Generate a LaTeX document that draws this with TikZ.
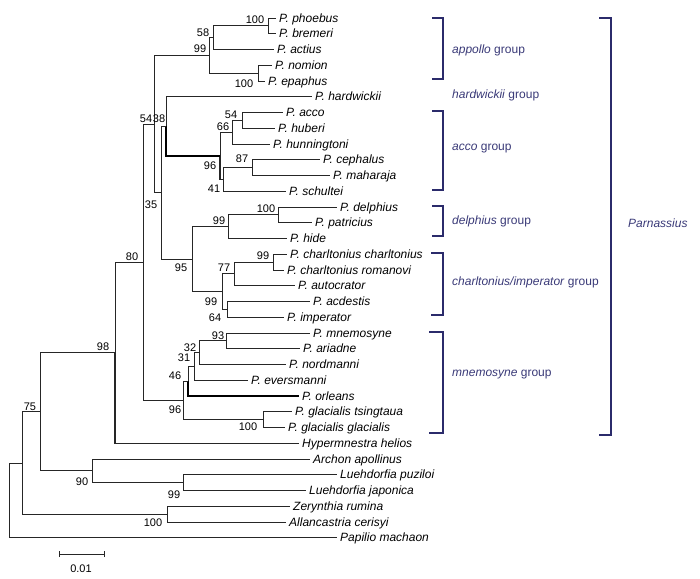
\documentclass[tikz,border=0pt]{standalone}
\usepackage{fontspec}
\setmainfont{Liberation Sans}
\definecolor{grp}{HTML}{3A3A78}
\definecolor{brk}{HTML}{2B2B6B}
\begin{document}
\begin{tikzpicture}[x=1pt,y=-1pt,
  br/.style={line width=0.9pt, draw=black!85},
  thk/.style={line width=1.7pt, draw=black},
  tip/.style={anchor=west, inner xsep=3pt, inner ysep=0pt, text height=8.4pt, text depth=0pt, font=\fontsize{12}{13}\selectfont\itshape},
  bs/.style={inner sep=0pt, font=\fontsize{11}{12}\selectfont},
  bracket/.style={draw=brk, line width=1.8pt},
  glab/.style={anchor=west, inner sep=0pt, text=grp, font=\fontsize{12}{13}\selectfont}]
\fill[white] (0,0) rectangle (700,578);
\useasboundingbox (0,0) rectangle (700,578);

% tips
\node[tip] (t0)  at (276,18)     {P. phoebus};
\node[tip] (t1)  at (276,33.75)  {P. bremeri};
\node[tip] (t2)  at (274,49.5)   {P. actius};
\node[tip] (t3)  at (272,65.25)  {P. nomion};
\node[tip] (t4)  at (265,81)     {P. epaphus};
\node[tip] (t5)  at (312,96.75)  {P. hardwickii};
\node[tip] (t6)  at (283,112.5)  {P. acco};
\node[tip] (t7)  at (275,128.25) {P. huberi};
\node[tip] (t8)  at (270,144)    {P. hunningtoni};
\node[tip] (t9)  at (320,159.75) {P. cephalus};
\node[tip] (t10) at (330,175.5)  {P. maharaja};
\node[tip] (t11) at (286,191.25) {P. schultei};
\node[tip] (t12) at (337,207)    {P. delphius};
\node[tip] (t13) at (312,222.75) {P. patricius};
\node[tip] (t14) at (287,238.5)  {P. hide};
\node[tip] (t15) at (287,254.25) {P. charltonius charltonius};
\node[tip] (t16) at (284,270)    {P. charltonius romanovi};
\node[tip] (t17) at (295,285.75) {P. autocrator};
\node[tip] (t18) at (310,301.5)  {P. acdestis};
\node[tip] (t19) at (284,317.25) {P. imperator};
\node[tip] (t20) at (310,333)    {P. mnemosyne};
\node[tip] (t21) at (300,348.75) {P. ariadne};
\node[tip] (t22) at (286,364.5)  {P. nordmanni};
\node[tip] (t23) at (248,380.25) {P. eversmanni};
\node[tip] (t24) at (299,396)    {P. orleans};
\node[tip] (t25) at (292,411.75) {P. glacialis tsingtaua};
\node[tip] (t26) at (285,427.5)  {P. glacialis glacialis};
\node[tip] (t27) at (299,443.25) {Hypermnestra helios};
\node[tip] (t28) at (310,459)    {Archon apollinus};
\node[tip] (t29) at (337,474.75) {Luehdorfia puziloi};
\node[tip] (t30) at (306,490.5)  {Luehdorfia japonica};
\node[tip] (t31) at (290,506.25) {Zerynthia rumina};
\node[tip] (t32) at (286,522)    {Allancastria cerisyi};
\node[tip] (t33) at (337,537.75) {Papilio machaon};

% internal nodes
\coordinate (A)  at (268,25.875);
\coordinate (B)  at (213,37.69);
\coordinate (C)  at (258,73.125);
\coordinate (D)  at (209,55.41);
\coordinate (E)  at (242,120.375);
\coordinate (F)  at (232,132.19);
\coordinate (G)  at (252,167.625);
\coordinate (H)  at (223,179.44);
\coordinate (I)  at (220,155.8);
\coordinate (J)  at (166,126.3);
\coordinate (K)  at (278,214.9);
\coordinate (L)  at (228,226.7);
\coordinate (M)  at (273,262.1);
\coordinate (N)  at (234,273.9);
\coordinate (O)  at (227,309.4);
\coordinate (P)  at (222,291.6);
\coordinate (Q)  at (192,259.2);
\coordinate (R)  at (161,192.7);
\coordinate (S)  at (154,124.1);
\coordinate (T)  at (226,340.9);
\coordinate (U)  at (199,352.7);
\coordinate (V)  at (194,366.5);
\coordinate (W)  at (188,381.2);
\coordinate (X)  at (263,419.6);
\coordinate (Y)  at (183,400.4);
\coordinate (Z)  at (143,262.3);
\coordinate (AA) at (115,352.8);
\coordinate (BB) at (183,482.6);
\coordinate (CC) at (92,470.8);
\coordinate (DD) at (40,411.8);
\coordinate (EE) at (167,514.1);
\coordinate (FF) at (22,463);
\coordinate (RT) at (9,500.4);

% branches
\draw[br] (A) |- (t0.west) (A) |- (t1.west);
\draw[br] (B) |- (A) (B) |- (t2.west);
\draw[br] (C) |- (t3.west) (C) |- (t4.west);
\draw[br] (D) |- (B) (D) |- (C);
\draw[br] (E) |- (t6.west) (E) |- (t7.west);
\draw[br] (F) |- (E) (F) |- (t8.west);
\draw[br] (G) |- (t9.west) (G) |- (t10.west);
\draw[br] (H) |- (G) (H) |- (t11.west);
\draw[br] (I) |- (F);
\draw[br, line width=1.4pt] (I) |- (H);
\draw[br] (J) |- (t5.west);
\draw[thk] (J) |- (I);
\draw[br] (K) |- (t12.west) (K) |- (t13.west);
\draw[br] (L) |- (K) (L) |- (t14.west);
\draw[br] (M) |- (t15.west) (M) |- (t16.west);
\draw[br] (N) |- (M) (N) |- (t17.west);
\draw[br] (O) |- (t18.west) (O) |- (t19.west);
\draw[br] (P) |- (N) (P) |- (O);
\draw[br] (Q) |- (L) (Q) |- (P);
\draw[br] (R) |- (J) (R) |- (Q);
\draw[br] (S) |- (D) (S) |- (R);
\draw[br] (T) |- (t20.west) (T) |- (t21.west);
\draw[br] (U) |- (T) (U) |- (t22.west);
\draw[br] (V) |- (U) (V) |- (t23.west);
\draw[br] (W) |- (V);
\draw[thk] (W) |- (t24.west);
\draw[br] (X) |- (t25.west) (X) |- (t26.west);
\draw[br] (Y) |- (W) (Y) |- (X);
\draw[br] (Z) |- (S) (Z) |- (Y);
\draw[br] (AA) |- (Z);
\draw[br, line width=1.4pt] (AA) |- (t27.west);
\draw[br] (BB) |- (t29.west) (BB) |- (t30.west);
\draw[br] (CC) |- (t28.west) (CC) |- (BB);
\draw[br] (DD) |- (AA) (DD) |- (CC);
\draw[br] (EE) |- (t31.west) (EE) |- (t32.west);
\draw[br] (FF) |- (DD) (FF) |- (EE);
\draw[br] (RT) |- (FF) (RT) |- (t33.west);

% bootstrap values
\node[bs] (bA)  at (255,20)  {100};
\node[bs] (bB)  at (203,33)  {58};
\node[bs] (bD)  at (200,49)  {99};
\node[bs] (bC)  at (244,84)  {100};
\node[bs] (bE)  at (231,115) {54};
\node[bs] (bF)  at (223,127) {66};
\node[bs] (bI)  at (210,166) {96};
\node[bs] (bG)  at (242,159) {87};
\node[bs] (bH)  at (214,189) {41};
\node[bs] (bS)  at (146,119) {54};
\node[bs] (bJ)  at (159,119) {38};
\node[bs] (bR)  at (151,205) {35};
\node[bs] (bZ)  at (132,257) {80};
\node[bs] (bK)  at (266,209) {100};
\node[bs] (bL)  at (219,221) {99};
\node[bs] (bQ)  at (181,268) {95};
\node[bs] (bN)  at (224,268) {77};
\node[bs] (bM)  at (263,256) {99};
\node[bs] (bP)  at (211,302) {99};
\node[bs] (bO)  at (215,318) {64};
\node[bs] (bT)  at (218,336) {93};
\node[bs] (bU)  at (190,348) {32};
\node[bs] (bV)  at (184,358) {31};
\node[bs] (bW)  at (175,376) {46};
\node[bs] (bY)  at (175,410) {96};
\node[bs] (bX)  at (248,427) {100};
\node[bs] (bAA) at (103,347) {98};
\node[bs] (bDD) at (30,407)  {75};
\node[bs] (bCC) at (82,482)  {90};
\node[bs] (bBB) at (174,495) {99};
\node[bs] (bEE) at (153,523) {100};

% scale bar
\coordinate (sb1) at (59,554);
\coordinate (sb2) at (104,554);
\draw[br] (sb1) -- (sb2);
\draw[br] ([yshift=-3pt]sb1) -- ([yshift=3pt]sb1);
\draw[br] ([yshift=-3pt]sb2) -- ([yshift=3pt]sb2);
\node[bs] (sbl) at (81,569) {0.01};

% group brackets
\draw[bracket] (432,18) -- (443,18) -- (443,79) -- (432,79);
\draw[bracket] (432,111) -- (443,111) -- (443,190) -- (432,190);
\draw[bracket] (432,206) -- (443,206) -- (443,236) -- (432,236);
\draw[bracket] (431,253) -- (443,253) -- (443,315) -- (431,315);
\draw[bracket] (429,332) -- (443,332) -- (443,433) -- (429,433);
\draw[bracket] (599,18) -- (611,18) -- (611,435) -- (599,435);

\node[glab] (g1) at (452,50)  {\textit{appollo} group};
\node[glab] (g2) at (452,95)  {\textit{hardwickii} group};
\node[glab] (g3) at (452,149) {\textit{acco} group};
\node[glab] (g4) at (452,221) {\textit{delphius} group};
\node[glab] (g5) at (452,282) {\textit{charltonius/imperator} group};
\node[glab] (g6) at (452,375) {\textit{mnemosyne} group};
\node[glab] (g7) at (628,223) {\textit{Parnassius}};
\end{tikzpicture}
\end{document}
